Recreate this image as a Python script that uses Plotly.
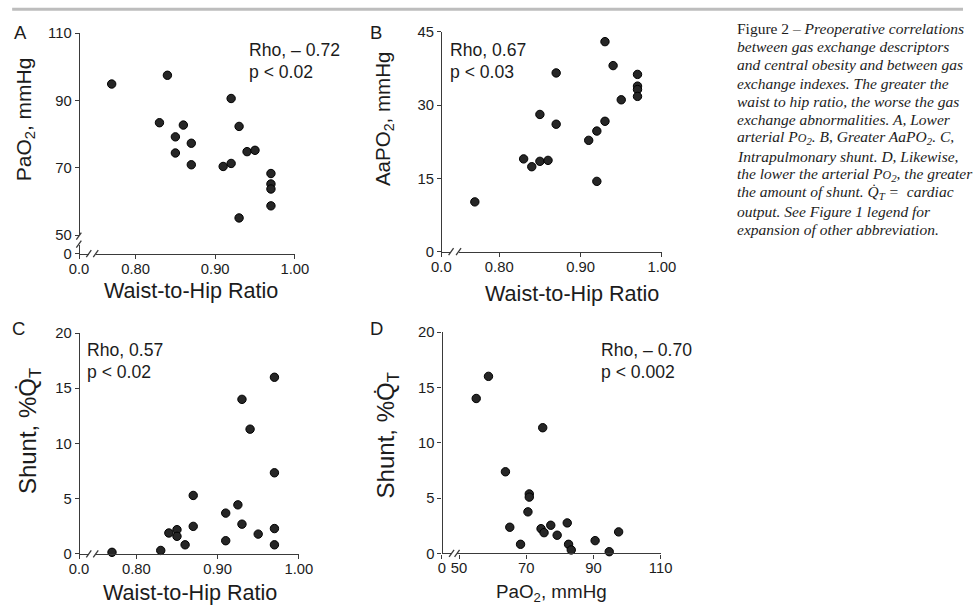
import plotly.graph_objects as go

# ---- data -------------------------------------------------------------
# A: waist-to-hip ratio vs arterial PO2
whr_a = [0.77, 0.84, 0.83, 0.86, 0.85, 0.87, 0.85, 0.87, 0.92, 0.93,
         0.91, 0.92, 0.94, 0.95, 0.97, 0.97, 0.97, 0.97, 0.93]
pao2_a = [94.9, 97.5, 83.4, 82.7, 79.2, 77.3, 74.4, 70.9, 90.6, 82.3,
          70.4, 71.3, 74.8, 75.2, 68.3, 65.2, 63.7, 58.7, 55.1]

# B: waist-to-hip ratio vs alveolar-arterial PO2 gradient
whr_b = [0.77, 0.83, 0.84, 0.85, 0.86, 0.85, 0.87, 0.87, 0.91, 0.92,
         0.92, 0.93, 0.93, 0.94, 0.95, 0.97, 0.97, 0.97, 0.97]
aapo2_b = [10.2, 19.0, 17.4, 18.5, 18.7, 28.1, 36.6, 26.1, 22.8, 24.7,
           14.4, 26.7, 43.0, 38.1, 31.1, 36.3, 33.9, 33.2, 31.8]

# C: waist-to-hip ratio vs intrapulmonary shunt
whr_c = [0.77, 0.83, 0.84, 0.85, 0.85, 0.86, 0.87, 0.87, 0.91, 0.91,
         0.925, 0.93, 0.93, 0.94, 0.95, 0.97, 0.97, 0.97, 0.97]
shunt_c = [0.15, 0.32, 1.9, 2.2, 1.6, 0.83, 5.3, 2.5, 3.7, 1.2,
           4.45, 2.7, 14.0, 11.3, 1.8, 16.0, 7.35, 2.3, 0.83]

# D: arterial PO2 vs intrapulmonary shunt
pao2_d = [55.1, 58.75, 74.9, 63.8, 70.9, 70.9, 70.5, 65.1, 68.3, 74.4,
          75.3, 77.3, 79.2, 82.2, 82.6, 83.4, 90.5, 94.7, 97.5]
shunt_d = [14.0, 16.0, 11.36, 7.38, 5.38, 5.09, 3.76, 2.37, 0.83, 2.24,
           1.88, 2.55, 1.65, 2.76, 0.83, 0.32, 1.16, 0.16, 1.95]

whr_ticks = [0.80, 0.90, 1.00]
whr_ticktext = ["0.80", "0.90", "1.00"]
pao2_ticks = [50, 70, 90, 110]
aapo2_ticks = [0, 15, 30, 45]
shunt_ticks = [0, 5, 10, 15, 20]

stats = {
    "A": ("Rho, \u2013 0.72", "p &lt; 0.02"),
    "B": ("Rho, 0.67", "p &lt; 0.03"),
    "C": ("Rho, 0.57", "p &lt; 0.02"),
    "D": ("Rho, \u2013 0.70", "p &lt; 0.002"),
}

# ---- layout helpers ---------------------------------------------------
# Positions below are given in screen pixels; fx/fy convert them to paper
# fractions, allowing for the page body margin and the screen scaling.
W, H = 977, 606
OFF = 8
SX, SY = 0.980, 0.974
SANS = "Liberation Sans, Arial, sans-serif"
SERIF = "Liberation Serif, Times New Roman, serif"
AXIS_COLOR = "#3a3a3a"
TEXT_COLOR = "#1c1c1c"


def fx(p):
    return (p / SX - OFF) / W


def fy(p):
    return 1 - (p / SY - OFF) / H


def axis(domain, rng, pos, tickvals, ticktext=None, horizontal=False):
    d = dict(
        domain=list(domain), range=list(rng), anchor="free", position=pos,
        showline=True, linecolor=AXIS_COLOR, linewidth=1.4,
        ticks="outside", ticklen=4, tickwidth=1.2, tickcolor=AXIS_COLOR,
        tickvals=tickvals, showgrid=False, zeroline=False,
        tickfont=dict(family=SANS, size=14.8, color=TEXT_COLOR),
        fixedrange=True,
    )
    if horizontal:
        d["ticklabelstandoff"] = -3
    if ticktext is not None:
        d["ticktext"] = ticktext
    return d


fig = go.Figure()

marker = dict(size=8.4, color="#262626", line=dict(color="#000000", width=1))


def scatter(x, y, xa, ya):
    fig.add_trace(go.Scatter(x=x, y=y, mode="markers", marker=marker,
                             xaxis=xa, yaxis=ya, cliponaxis=False,
                             showlegend=False, hoverinfo="skip"))


def stub(xa, ya):
    fig.add_trace(go.Scatter(x=[], y=[], mode="markers", xaxis=xa, yaxis=ya,
                             showlegend=False, hoverinfo="skip"))


scatter(whr_a, pao2_a, "x", "y")
stub("x2", "y2")
scatter(whr_b, aapo2_b, "x3", "y3")
stub("x4", "y3")
scatter(whr_c, shunt_c, "x5", "y5")
stub("x6", "y5")
scatter(pao2_d, shunt_d, "x7", "y7")
stub("x8", "y7")

layout = dict(
    width=W, height=H, margin=dict(l=0, r=0, t=0, b=0),
    paper_bgcolor="white", plot_bgcolor="rgba(0,0,0,0)", showlegend=False,
    # panel A (broken x and y axes)
    xaxis=axis((fx(94), fx(294)), (0.75, 1.0), fy(253.5), whr_ticks, whr_ticktext, True),
    yaxis=axis((fy(235), fy(33)), (50, 110), fx(77), pao2_ticks),
    xaxis2=axis((fx(77), fx(87)), (-0.02, 1), fy(253.5), [0], ["0.0"], True),
    yaxis2=axis((fy(253.5), fy(245)), (-0.02, 1), fx(77), [0], ["0"]),
    # panel B (broken x axis)
    xaxis3=axis((fx(458.5), fx(662.8)), (0.75, 1.0), fy(251.6), whr_ticks, whr_ticktext, True),
    yaxis3=axis((fy(251.6), fy(31.7)), (0, 45), fx(441), aapo2_ticks),
    xaxis4=axis((fx(441), fx(451)), (-0.02, 1), fy(251.6), [0], ["0.0"], True),
    # panel C (broken x axis)
    xaxis5=axis((fx(94), fx(298)), (0.75, 1.0), fy(554), whr_ticks, whr_ticktext, True),
    yaxis5=axis((fy(554), fy(333)), (0, 20), fx(77), shunt_ticks),
    xaxis6=axis((fx(77), fx(87)), (-0.02, 1), fy(554), [0], ["0.0"], True),
    # panel D (broken x axis)
    xaxis7=axis((fx(457), fx(661.5)), (49.4, 110), fy(553.5), pao2_ticks, None, True),
    yaxis7=axis((fy(553.5), fy(332)), (0, 20), fx(441.5), shunt_ticks),
    xaxis8=axis((fx(441.5), fx(451.5)), (-0.02, 1), fy(553.5), [0], ["0"], True),
)
fig.update_layout(**layout)

# ---- axis-break slashes and top rule ----------------------------------
shapes = [dict(type="line", xref="paper", yref="paper",
               x0=fx(10), x1=1, y0=fy(9), y1=fy(9),
               line=dict(color="#bdbdbd", width=3))]


def slash(cx, cy):
    shapes.append(dict(type="line", xref="paper", yref="paper",
                       x0=fx(cx - 2.5), y0=fy(cy + 3.5),
                       x1=fx(cx + 2.5), y1=fy(cy - 3.5),
                       line=dict(color=AXIS_COLOR, width=1.3)))


# x-axis breaks
for gap_l, gap_r, ypos in [(87, 94, 253.5), (451, 458.5, 251.6),
                           (87, 94, 554), (451.5, 457, 553.5)]:
    slash(gap_l, ypos)
    slash(gap_r, ypos)
# y-axis break in panel A
slash(77, 236)
slash(77, 244)

fig.update_layout(shapes=shapes)

# ---- text -------------------------------------------------------------
ann = []


def text(s, x, y, size, xanchor="center", yanchor="middle", angle=0,
         family=SANS, align="center"):
    ann.append(dict(text=s, x=fx(x), y=fy(y), xref="paper", yref="paper",
                    xanchor=xanchor, yanchor=yanchor, textangle=angle,
                    showarrow=False, align=align,
                    font=dict(family=family, size=size, color=TEXT_COLOR)))


# panel letters
text("A", 18.5, 32, 18.5)
text("B", 375.5, 32, 18.5)
text("C", 16, 328, 18.5)
text("D", 376.5, 328, 18.5)

# correlation statistics
for key, (x0, y0) in {"A": (246, 50), "B": (448, 50),
                      "C": (83, 350), "D": (600, 350)}.items():
    rho, p = stats[key]
    text(rho, x0, y0, 17.6, xanchor="left")
    text(p, x0, y0 + 22, 17.6, xanchor="left")

# axis titles
text("Waist-to-Hip Ratio", 190, 290, 21.6)
text("Waist-to-Hip Ratio", 572, 293, 21.6)
text("Waist-to-Hip Ratio", 189, 593, 21.6)
text("PaO<sub>2</sub>, mmHg", 552, 593, 18.8)
text("PaO<sub>2</sub>, mmHg", 23, 119, 21, angle=-90)
text("AaPO<sub>2</sub>, mmHg", 383, 118.5, 20.5, angle=-90)
text("Shunt, %Q\u0307<sub>T</sub>", 27, 431, 24, angle=-90)
text("Shunt, %Q\u0307<sub>T</sub>", 387, 435, 24, angle=-90)

# figure caption, one annotation per line for tight leading
po2 = "P<span style='font-size:12px'>O</span><sub>2</sub>"
caption_lines = [
    "Figure 2 \u2013 <i>Preoperative correlations</i>",
    "<i>between gas exchange descriptors</i>",
    "<i>and central obesity and between gas</i>",
    "<i>exchange indexes. The greater the</i>",
    "<i>waist to hip ratio, the worse the gas</i>",
    "<i>exchange abnormalities. A, Lower</i>",
    "<i>arterial " + po2 + ". B, Greater AaPO<sub>2</sub>. C,</i>",
    "<i>Intrapulmonary shunt. D, Likewise,</i>",
    "<i>the lower the arterial " + po2 + ", the greater</i>",
    "<i>the amount of shunt. Q\u0307<sub>T</sub> =  cardiac</i>",
    "<i>output. See Figure 1 legend for</i>",
    "<i>expansion of other abbreviation.</i>",
]
for i, line in enumerate(caption_lines):
    text(line, 736, 28 + 18.3 * i, 15.5, xanchor="left", family=SERIF,
         align="left")

fig.update_layout(annotations=ann)

fig.write_html("out.html")
